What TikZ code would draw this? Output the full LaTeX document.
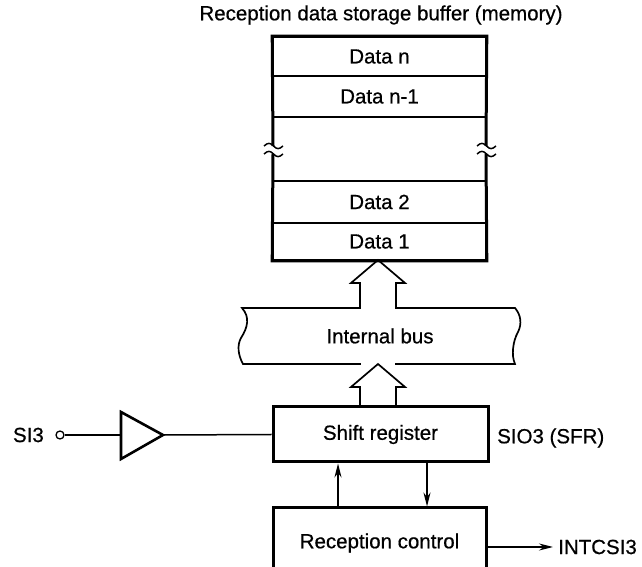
\documentclass[tikz,border=0pt]{standalone}
\usepackage{fontspec}
\setmainfont[FakeBold=0.6]{Liberation Sans}
\usetikzlibrary{arrows.meta}
\begin{document}
\begin{tikzpicture}[x=1pt,y=1pt,
  lbl/.style={font=\fontsize{20.5}{24}\selectfont, inner sep=0pt},
  row/.style={draw, line width=1.6pt, minimum width=213pt, inner sep=0pt, lbl},
  frame/.style={line width=3pt, line cap=butt, line join=miter},
  box/.style={draw, line width=3pt, inner sep=0pt, lbl},
  hollow/.style={draw, line width=1.7pt, fill=white, line join=miter},
  thinline/.style={line width=1.5pt},
  arr/.style={line width=1.5pt, -{Stealth[length=14pt,width=7pt]}},
]
\useasboundingbox (0,0) rectangle (642,567);
\clip (0,0) rectangle (642,567);

% title
\node[lbl] (title) at (381,552) {Reception data storage buffer (memory)};

% memory rows
\node[row, minimum height=39pt] (dn)  at (379.5,510.5) {Data n};
\node[row, minimum height=41pt] (dn1) at (379.5,470.5) {Data n-1};
\node[row, minimum height=42pt] (d2)  at (379.5,365) {Data 2};
\node[row, minimum height=37pt] (d1)  at (379.5,325.5) {Data 1};

% bus
\draw[line width=1.7pt, fill=white]
  (242,259) -- (515,259)
  .. controls (521,252) and (522,243) .. (518,235)
  .. controls (513,226) and (511,212) .. (515,203)
  -- (243,203)
  .. controls (238,212) and (237,222) .. (241,229)
  .. controls (248,240) and (250,250) .. cycle;
\node[lbl] (bus) at (380,231) {Internal bus};

% hollow arrow bus -> memory
\fill[white] (360.9,256.5) rectangle (395.1,260.5);
\draw[hollow] (360,259) -- (360,284) -- (351,284) -- (378,307) -- (405,284) -- (396,284) -- (396,259);

% hollow arrow shift register -> bus
\fill[white] (360.9,200.5) rectangle (395.1,204);
\draw[hollow] (360,160) -- (360,180) -- (351,180) -- (378,203) -- (405,180) -- (396,180) -- (396,160);

% memory frame with break marks
\draw[frame] (273,413) -- (d1.south west) -- (d1.south east) -- (486,413);
\draw[frame] (273,421) -- (dn.north west) -- (dn.north east) -- (486,421);
\draw[thinline] (264,421) .. controls (268,424.5) and (270,424.5) .. (273.5,421) .. controls (277,417.5) and (279,417.5) .. (283,421);
\draw[thinline] (264,413) .. controls (268,416.5) and (270,416.5) .. (273.5,413) .. controls (277,409.5) and (279,409.5) .. (283,413);
\draw[thinline] (477,421) .. controls (481,424.5) and (483,424.5) .. (486.5,421) .. controls (490,417.5) and (492,417.5) .. (496,421);
\draw[thinline] (477,413) .. controls (481,416.5) and (483,416.5) .. (486.5,413) .. controls (490,409.5) and (492,409.5) .. (496,413);

% shift register
\node[box, minimum width=215pt, minimum height=55pt] (sr) at (380.5,132.5) {Shift register};
\node[lbl, anchor=west] (sfr) at (497,129) {SIO3 (SFR)};

% input
\node[lbl, anchor=east] (si3) at (44,132) {SI3};
\node[circle, draw, line width=1.3pt, minimum size=8pt, inner sep=0pt] (pin) at (60,132) {};
\coordinate (bufin) at (121,132);
\coordinate (bufout) at (163,132);
\draw[line width=2.6pt, line join=miter] (121,155) -- (bufout) -- (121,108) -- cycle;
\draw[thinline] (pin.east) -- (bufin);
\draw[thinline] (bufout) -- (sr.west);

% reception control
\node[box, minimum width=213pt, minimum height=70pt] (rc) at (379.5,24) {Reception control};
\coordinate (ua) at (338,0);
\coordinate (da) at (427,0);
\draw[arr] (rc.north -| ua) -- (sr.south -| ua);
\draw[arr] (sr.south -| da) -- (rc.north -| da);

\node[lbl, anchor=west] (int) at (558,20) {INTCSI3};
\draw[arr] (rc.east |- int.west) -- ([xshift=-5pt]int.west);
\end{tikzpicture}
\end{document}
